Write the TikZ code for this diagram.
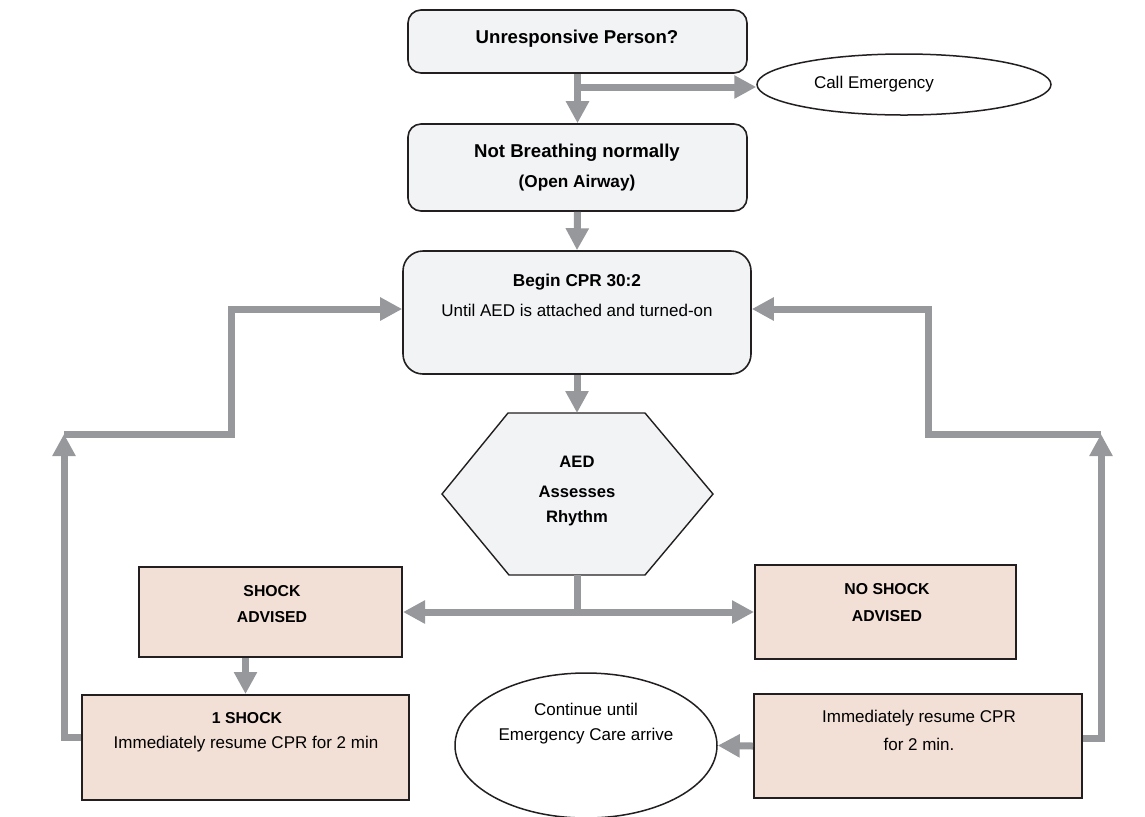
\documentclass[tikz,border=0pt]{standalone}
\usepackage{fontspec}
\setmainfont{Liberation Sans}
\usetikzlibrary{arrows.meta,calc,shapes.geometric}
\definecolor{conngray}{HTML}{97989C}
\definecolor{boxfill}{HTML}{F2F3F5}
\definecolor{pinkfill}{HTML}{F2DFD5}
\definecolor{edge}{HTML}{231F20}
\begin{document}
\begin{tikzpicture}[x=0.5pt,y=-0.5pt,
  gbox/.style={draw=edge, line width=0.8pt, fill=boxfill, rounded corners=6.5pt, inner sep=0pt},
  pbox/.style={draw=edge, line width=1pt, fill=pinkfill, inner sep=0pt},
  oval/.style={draw=edge, line width=0.75pt, fill=white, ellipse, inner sep=0pt},
  conn/.style={draw=conngray, line width=3.5pt, -{Triangle[length=11pt,width=11pt]}},
  plainline/.style={draw=conngray, line width=3.5pt},
  bigb/.style={font=\bfseries\fontsize{9.3}{11}\selectfont, inner sep=0pt},
  midb/.style={font=\bfseries\fontsize{8.6}{10}\selectfont, inner sep=0pt},
  smb/.style={font=\bfseries\fontsize{7.9}{9}\selectfont, inner sep=0pt},
  hexb/.style={font=\bfseries\fontsize{8.3}{10}\selectfont, inner sep=0pt},
  reg/.style={font=\fontsize{8.5}{10}\selectfont, inner sep=0pt}
]
\useasboundingbox (0,0) rectangle (1145,816);
\fill[white] (0,0) rectangle (1145,816);

% boxes
\node[gbox, minimum width=169.5pt, minimum height=31.5pt] (b1) at (577.5,41.5) {};
\node[gbox, minimum width=169.5pt, minimum height=43.5pt] (b2) at (577.5,167.5) {};
\node[gbox, rounded corners=10pt, minimum width=174pt, minimum height=61.5pt] (b3) at (577,312.5) {};
\node[oval, minimum width=147pt, minimum height=30.5pt] (call) at (904,84.5) {};
\draw[draw=edge, fill=boxfill, line width=0.7pt] (508,413) -- (645,413) -- (713,494) -- (645,575) -- (509,575) -- (442,494) -- cycle;
\coordinate (hexT) at (577,413);
\coordinate (hexB) at (577,575);
\node[pbox, minimum width=131.5pt, minimum height=45pt] (shock) at (270.5,612) {};
\node[pbox, minimum width=163.5pt, minimum height=52.5pt] (oneshock) at (245.5,747.5) {};
\node[pbox, minimum width=130.5pt, minimum height=47pt] (noshock) at (885.5,612) {};
\node[pbox, minimum width=164pt, minimum height=52pt] (imm) at (918,746) {};
\node[oval, minimum width=131pt, minimum height=72.5pt] (cont) at (586,745.5) {};

% texts
\node[bigb] (t1) at (577,39) {Unresponsive Person?};
\node[reg] (t2) at (874,84) {Call Emergency};
\node[bigb] (t3) at (577,153) {Not Breathing normally};
\node[midb] (t4) at (577,183) {(Open Airway)};
\node[midb] (t5) at (577,282) {Begin CPR 30:2};
\node[reg] (t6) at (577,310) {Until AED is attached and turned-on};
\node[hexb] (t7) at (577,462) {AED};
\node[hexb] (t8) at (577,492) {Assesses};
\node[hexb] (t9) at (577,518) {Rhythm};
\node[smb] (t10) at (272,591) {SHOCK};
\node[smb] (t11) at (272,617) {ADVISED};
\node[smb] (t12) at (887,589) {NO SHOCK};
\node[smb] (t13) at (887,616) {ADVISED};
\node[smb] (t14) at (247,718) {1 SHOCK};
\node[reg] (t15) at (246,744) {Immediately resume CPR for 2 min};
\node[reg] (t16) at (919,718) {Immediately resume CPR};
\node[reg] (t17) at (919,744) {for 2 min.};
\node[reg] (t18) at (586,709) {Continue until};
\node[reg] (t19) at (586,736) {Emergency Care arrive};

% connectors
\draw[conn] (b1.south) -- (b2.north);
\coordinate (br) at (577.5,87);
\draw[conn] (br) -- (br -| call.west);
\draw[conn] (b2.south) -- (b3.north);
\draw[conn] (b3.south) -- (hexT);
\coordinate (jn) at (577,612);
\draw[plainline] (hexB) -- (jn);
\draw[conn] (jn) -- (shock.east);
\draw[conn] (jn) -- (noshock.west);
\draw[conn] (oneshock.north |- shock.south) -- (oneshock.north);
\coordinate (L1) at (64,434);
\coordinate (L2) at (231,309);
\draw[conn] ([yshift=5pt]oneshock.west) -| (L1);
\draw[conn] (L1) -| (L2) -- (L2 -| b3.west);
\coordinate (R1) at (1101,434);
\coordinate (R2) at (928,309);
\draw[conn] ([yshift=4pt]imm.east) -| (R1);
\draw[conn] (R1) -| (R2) -- (R2 -| b3.east);
\draw[conn] (imm.west) -- (cont.east);
\end{tikzpicture}
\end{document}
